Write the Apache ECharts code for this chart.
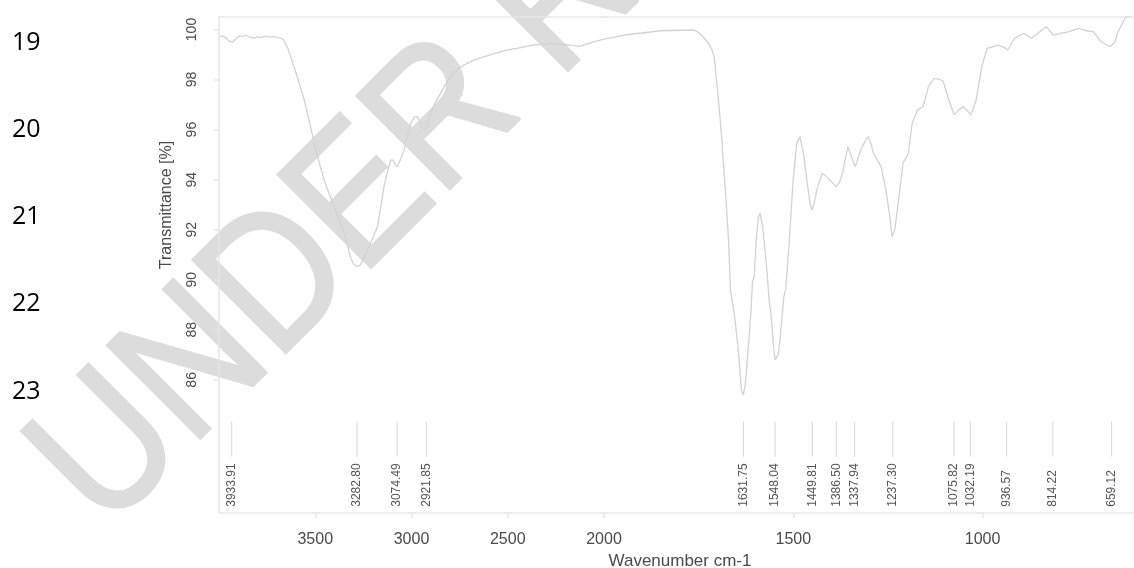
<!DOCTYPE html>
<html><head><meta charset="utf-8">
<script src="https://cdn.jsdelivr.net/npm/echarts@6/dist/echarts.min.js"></script>
<style>html,body{margin:0;padding:0;background:#fff}#c{width:1134px;height:568px}</style>
</head><body><div id="c"></div>
<script>
// Wavenumber (cm-1) and transmittance (%)
const wavenumber = [3995,3980,3965,3950,3930,3912,3895,3878,3860,3840,3820,3800,3780,3760,3740,3720,3700,3680,3665,3640,3610,3585,3557,3530,3505,3480,3454,3428,3402,3376,3350,3330,3315,3300,3282,3265,3250,3229,3205,3177,3160,3143,3125,3108,3095,3085,3074,3060,3039,3020,3005,2985,2970,2950,2936,2922,2910,2901,2875,2849,2820,2798,2760,2711,2670,2625,2580,2539,2495,2452,2410,2366,2320,2280,2240,2200,2160,2125,2090,2050,2000,1970,1947,1900,1850,1800,1762,1753,1738,1724,1715,1709,1700,1690,1680,1671,1666,1656,1646,1637,1632,1627,1622,1612,1608,1603,1598,1592,1588,1583,1579,1569,1564,1559,1552,1548,1540,1535,1525,1520,1511,1501,1491,1482,1472,1462,1455,1450,1444,1438,1424,1414,1404,1395,1386,1378,1370,1356,1346,1337,1330,1322,1310,1302,1295,1288,1268,1254,1245,1239,1232,1225,1210,1196,1186,1172,1157,1143,1128,1115,1104,1089,1075,1062,1050,1040,1031,1017,1002,988,972,958,945,934,915,891,871,850,832,813,795,774,760,745,725,707,687,663,650,644,624,612];
const transmittance = [99.72,99.75,99.68,99.55,99.5,99.62,99.75,99.72,99.78,99.7,99.66,99.72,99.68,99.74,99.7,99.72,99.68,99.66,99.6,99.2,98.5,97.9,97.18,96.3,95.45,94.7,93.99,93.45,92.92,92.4,91.86,91.3,90.85,90.62,90.53,90.6,90.85,91.19,91.6,92.12,92.9,93.72,94.3,94.79,94.78,94.6,94.52,94.75,95.19,95.8,96.25,96.5,96.52,96.25,95.99,96.1,96.4,96.65,97.1,97.45,97.85,98.12,98.42,98.65,98.8,98.91,99.02,99.11,99.2,99.25,99.32,99.38,99.42,99.45,99.42,99.4,99.36,99.33,99.42,99.52,99.62,99.7,99.78,99.86,99.95,99.97,99.97,99.91,99.7,99.45,99.2,98.91,97.58,95.85,93.72,91.59,89.6,88.67,87.33,85.6,85.39,85.8,86.67,88.67,89.9,90.13,91.59,92.5,92.66,92.3,91.86,90.26,89.2,88.67,87.3,86.8,87.0,87.6,89.33,89.6,91.46,93.86,95.45,95.72,94.92,93.72,93.0,92.79,93.1,93.59,94.26,94.15,93.99,93.85,93.72,93.9,94.26,95.32,94.9,94.52,94.8,95.19,95.55,95.72,95.45,95.05,94.52,93.46,92.5,91.73,92.0,92.79,94.66,95.05,96.25,96.79,96.92,97.72,98.05,98.02,97.92,97.18,96.59,96.8,96.92,96.75,96.59,97.18,98.51,99.25,99.32,99.38,99.3,99.18,99.65,99.85,99.65,99.9,100.11,99.78,99.85,99.91,99.98,100.05,99.95,99.91,99.51,99.31,99.5,99.85,100.45,100.55];
// Labelled peaks (cm-1)
const peaks = [3933.91,3282.80,3074.49,2921.85,1631.75,1548.04,1449.81,1386.50,1337.94,1237.30,1075.82,1032.19,936.57,814.22,659.12];
const yTicks = [86,88,90,92,94,96,98,100];
const xTicksHigh = [2500,3000,3500];
const xTicksLow = [1000,1500,2000];
const lineNumbers = ['19','20','21','22','23'];
const yTitle = 'Transmittance [%]';
const xTitle = 'Wavenumber cm-1';
const watermark = 'UNDER REVIEW';

const BREAK = 2000;
const highPts = [], lowPts = [];
wavenumber.forEach((w, i) => {
  if (w >= BREAK) highPts.push([w, transmittance[i]]);
  if (w <= BREAK) lowPts.push([w, transmittance[i]]);
});
const peaksHigh = peaks.filter(p => p > BREAK).map(p => [p]);
const peaksLow = peaks.filter(p => p <= BREAK).map(p => [p]);

const FRAME = '#e6e6e6';
const TXT = '#4a4a4a';
const YMIN = 80.68, YMAX = 100.5;

function peakRender(params, api) {
  const w = api.value(0);
  const a = api.coord([w, 84.33]);
  const b = api.coord([w, 82.93]);
  const c = api.coord([w, 80.93]);
  return {
    type: 'group',
    children: [
      { type: 'line', shape: { x1: a[0], y1: a[1], x2: b[0], y2: b[1] }, style: { stroke: '#d8d8d8', lineWidth: 1 } },
      { type: 'text', x: c[0], y: c[1], rotation: Math.PI / 2,
        style: { text: w.toFixed(2), align: 'left', verticalAlign: 'middle', fontSize: 12, fontFamily: 'Liberation Sans', fill: '#555' } }
    ]
  };
}

const xCommon = {
  type: 'value', inverse: true, z: 5,
  axisLine: { show: true, lineStyle: { color: FRAME, width: 1.5 } },
  splitLine: { show: false },
  axisTick: { show: true, length: 5, inside: false, lineStyle: { color: FRAME, width: 1.5 } },
  axisLabel: { show: true, margin: 19, fontSize: 16, fontFamily: 'Liberation Sans', color: TXT, formatter: v => String(v) }
};
const xTop = {
  type: 'value', inverse: true, position: 'top', z: 5,
  axisLine: { show: true, lineStyle: { color: FRAME, width: 1.5 } },
  splitLine: { show: false }, axisTick: { show: false }, axisLabel: { show: false }
};

const option = {
  backgroundColor: '#fff',
  animation: false,
  grid: [
    { left: 219, top: 17, width: 385, height: 496 },
    { left: 604, top: 17, width: 538, height: 496 }
  ],
  xAxis: [
    Object.assign({}, xCommon, { gridIndex: 0, min: BREAK, max: 4000,
      axisTick: Object.assign({}, xCommon.axisTick, { customValues: xTicksHigh }),
      axisLabel: Object.assign({}, xCommon.axisLabel, { customValues: xTicksHigh }) }),
    Object.assign({}, xCommon, { gridIndex: 1, min: 600, max: BREAK,
      axisTick: Object.assign({}, xCommon.axisTick, { customValues: xTicksLow }),
      axisLabel: Object.assign({}, xCommon.axisLabel, { customValues: xTicksLow }) }),
    Object.assign({}, xTop, { gridIndex: 0, min: BREAK, max: 4000 }),
    Object.assign({}, xTop, { gridIndex: 1, min: 600, max: BREAK })
  ],
  yAxis: [
    { type: 'value', gridIndex: 0, min: YMIN, max: YMAX, z: 5,
      axisLine: { show: true, lineStyle: { color: FRAME, width: 1.5 } },
      splitLine: { show: false },
      axisTick: { show: true, length: 5, customValues: yTicks, lineStyle: { color: FRAME, width: 1.5 } },
      axisLabel: { show: true, rotate: 90, margin: 20, customValues: yTicks, fontSize: 14, fontFamily: 'Liberation Sans', color: TXT, formatter: v => String(v) } },
    { type: 'value', gridIndex: 1, min: YMIN, max: YMAX, show: false }
  ],
  series: [
    { type: 'line', xAxisIndex: 0, yAxisIndex: 0, data: highPts, showSymbol: false, symbol: 'none',
      lineStyle: { color: '#d2d2d2', width: 1.3 }, z: 6 },
    { type: 'line', xAxisIndex: 1, yAxisIndex: 1, data: lowPts, showSymbol: false, symbol: 'none',
      lineStyle: { color: '#d2d2d2', width: 1.3 }, z: 6 },
    { type: 'custom', xAxisIndex: 0, yAxisIndex: 0, data: peaksHigh, encode: { x: 0 }, renderItem: peakRender, z: 6 },
    { type: 'custom', xAxisIndex: 1, yAxisIndex: 1, data: peaksLow, encode: { x: 0 }, renderItem: peakRender, z: 6 }
  ],
  graphic: [
    { type: 'text', x: 68, y: 496, rotation: Math.PI / 4, scaleX: 0.875, z: 1,
      style: { text: watermark, align: 'left', verticalAlign: 'middle', fontSize: 191, fontFamily: 'Liberation Sans',
               fill: '#dcdcdc', stroke: '#dcdcdc', lineWidth: 3 } },
    { type: 'text', x: 167, y: 205, rotation: Math.PI / 2, z: 7,
      style: { text: yTitle, align: 'center', verticalAlign: 'middle', fontSize: 16, fontFamily: 'Liberation Sans', fill: TXT } },
    { type: 'text', x: 680, y: 561, z: 7,
      style: { text: xTitle, align: 'center', verticalAlign: 'middle', fontSize: 17, fontFamily: 'Liberation Sans', fill: TXT } }
  ].concat(lineNumbers.map((t, i) => ({
    type: 'text', x: 12, y: [43, 130, 217, 304, 392][i], z: 7,
    style: { text: t, align: 'left', verticalAlign: 'middle', fontSize: 25, fontFamily: 'Open Sans', fill: '#000' }
  })))
};
const chart = echarts.init(document.getElementById('c'), null, { renderer: 'canvas' });
chart.setOption(option);
</script></body></html>
